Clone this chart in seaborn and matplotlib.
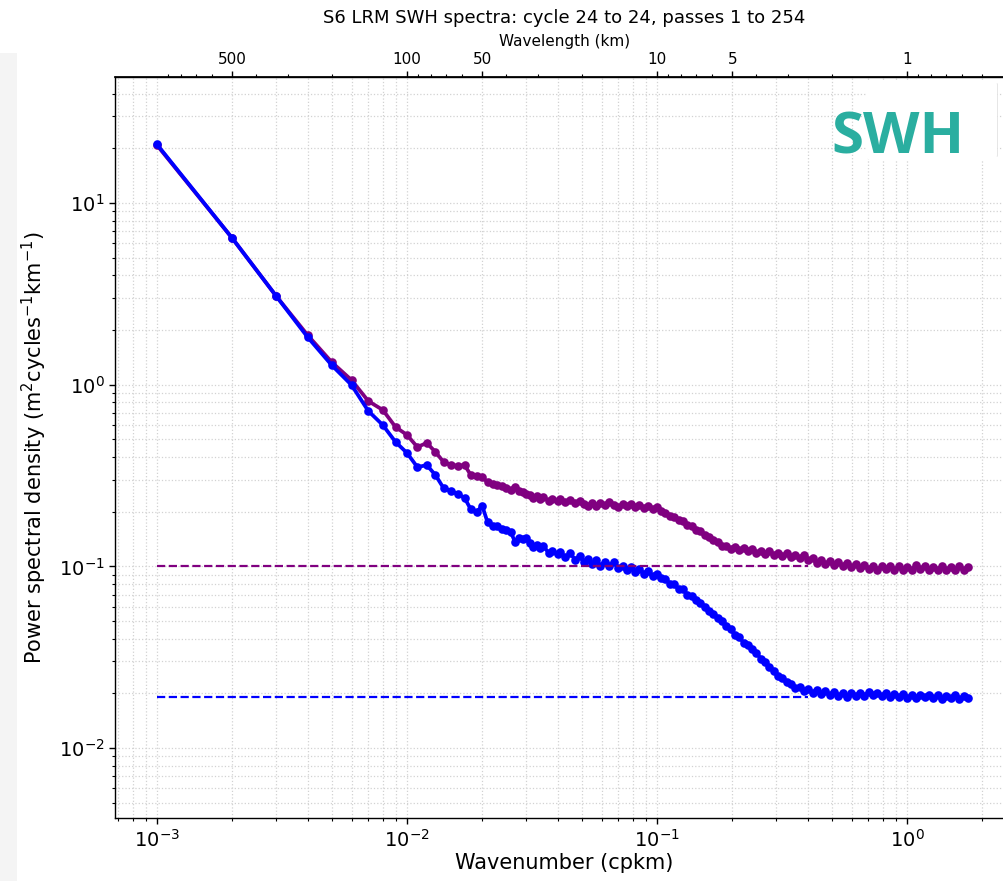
import numpy as np
import pandas as pd
import matplotlib
matplotlib.use("Agg")
import matplotlib.pyplot as plt
from matplotlib.patches import Rectangle, FancyBboxPatch
from matplotlib.lines import Line2D
import seaborn as sns

# ---------------- data ----------------
wavenumber = [
    0.001, 0.002, 0.003, 0.004, 0.005, 0.006, 0.007, 0.008, 0.009, 0.010,
    0.011, 0.012, 0.013, 0.014, 0.015, 0.016, 0.017, 0.018, 0.019, 0.020,
    0.021, 0.022, 0.023, 0.024, 0.025, 0.026, 0.027, 0.028, 0.029, 0.030,
    0.031, 0.032, 0.033, 0.034, 0.035, 0.037, 0.038, 0.040, 0.041, 0.043,
    0.045, 0.047, 0.049, 0.051, 0.053, 0.055, 0.057, 0.059, 0.062, 0.064,
    0.067, 0.070, 0.073, 0.076, 0.079, 0.082, 0.085, 0.089, 0.092, 0.096,
    0.100, 0.104, 0.108, 0.113, 0.117, 0.122, 0.127, 0.132, 0.138, 0.143,
    0.149, 0.155, 0.161, 0.168, 0.175, 0.182, 0.189, 0.197, 0.205, 0.213,
    0.222, 0.231, 0.240, 0.250, 0.260, 0.270, 0.281, 0.293, 0.305, 0.317,
    0.330, 0.343, 0.357, 0.372, 0.387, 0.402, 0.419, 0.436, 0.453, 0.472,
    0.491, 0.510, 0.531, 0.553, 0.575, 0.598, 0.623, 0.648, 0.674, 0.702,
    0.730, 0.760, 0.791, 0.823, 0.856, 0.891, 0.927, 0.965, 1.004, 1.045,
    1.087, 1.131, 1.177, 1.225, 1.275, 1.327, 1.381, 1.437, 1.495, 1.556,
    1.619, 1.685, 1.750,
]

psd_purple = [
    20.8, 6.40, 3.07, 1.877, 1.33, 1.06, 0.813, 0.726, 0.585, 0.529,
    0.454, 0.478, 0.426, 0.376, 0.361, 0.358, 0.361, 0.318, 0.314, 0.310,
    0.291, 0.285, 0.281, 0.276, 0.270, 0.263, 0.272, 0.260, 0.257, 0.250,
    0.246, 0.238, 0.243, 0.236, 0.240, 0.230, 0.236, 0.229, 0.234, 0.226,
    0.231, 0.224, 0.229, 0.220, 0.214, 0.222, 0.216, 0.224, 0.217, 0.225,
    0.218, 0.212, 0.221, 0.214, 0.220, 0.211, 0.218, 0.210, 0.216, 0.207,
    0.212, 0.202, 0.197, 0.190, 0.186, 0.181, 0.177, 0.170, 0.166, 0.159,
    0.156, 0.148, 0.145, 0.139, 0.136, 0.130, 0.129, 0.125, 0.128, 0.123,
    0.126, 0.121, 0.124, 0.119, 0.122, 0.117, 0.121, 0.116, 0.119, 0.114,
    0.118, 0.113, 0.116, 0.111, 0.115, 0.108, 0.111, 0.105, 0.109, 0.103,
    0.107, 0.102, 0.106, 0.100, 0.104, 0.099, 0.103, 0.098, 0.102, 0.097,
    0.101, 0.096, 0.100, 0.097, 0.101, 0.096, 0.100, 0.095, 0.099, 0.096,
    0.102, 0.097, 0.100, 0.095, 0.099, 0.096, 0.101, 0.095, 0.099, 0.096,
    0.100, 0.095, 0.099,
]

psd_blue = [
    21.0, 6.40, 3.07, 1.83, 1.28, 0.996, 0.717, 0.600, 0.484, 0.421,
    0.352, 0.361, 0.318, 0.270, 0.260, 0.250, 0.238, 0.206, 0.200, 0.215,
    0.175, 0.167, 0.166, 0.161, 0.158, 0.155, 0.137, 0.144, 0.141, 0.144,
    0.135, 0.128, 0.131, 0.126, 0.130, 0.118, 0.122, 0.117, 0.120, 0.112,
    0.118, 0.109, 0.114, 0.106, 0.110, 0.103, 0.108, 0.101, 0.106, 0.100,
    0.106, 0.098, 0.101, 0.095, 0.099, 0.093, 0.097, 0.091, 0.094, 0.088,
    0.091, 0.086, 0.085, 0.080, 0.080, 0.075, 0.075, 0.070, 0.069, 0.065,
    0.063, 0.060, 0.057, 0.055, 0.052, 0.050, 0.047, 0.045, 0.042, 0.041,
    0.038, 0.037, 0.035, 0.0335, 0.031, 0.0298, 0.0278, 0.0267, 0.0250, 0.0242,
    0.0230, 0.0226, 0.0215, 0.0218, 0.0207, 0.0212, 0.0202, 0.0208, 0.0198, 0.0205,
    0.0196, 0.0203, 0.0194, 0.0201, 0.0192, 0.0200, 0.0193, 0.0201, 0.0194, 0.0203,
    0.0195, 0.0202, 0.0193, 0.0200, 0.0192, 0.0199, 0.0190, 0.0198, 0.0189, 0.0197,
    0.0188, 0.0196, 0.0190, 0.0197, 0.0188, 0.0195, 0.0187, 0.0194, 0.0188, 0.0195,
    0.0186, 0.0193, 0.0189,
]

noise_range = [0.001, 0.4]
noise_purple = 0.1
noise_blue = 0.019

series_names = ["purple", "blue"]
series_colors = {"purple": "#800080", "blue": "#0000ff"}

top_ticks = [500, 100, 50, 10, 5, 1]
top_ticklabels = ["500", "100", "50", "10", "5", "1"]

title = "S6 LRM SWH spectra: cycle 24 to 24, passes 1 to 254"
xlabel = "Wavenumber (cpkm)"
ylabel = r"Power spectral density (m$^2$cycles$^{-1}$km$^{-1}$)"
toplabel = "Wavelength (km)"
badge = "SWH"

# ---------------- build long table ----------------
df = pd.concat([
    pd.DataFrame({"k": wavenumber, "psd": psd_purple, "series": "purple"}),
    pd.DataFrame({"k": wavenumber, "psd": psd_blue, "series": "blue"}),
], ignore_index=True)

# ---------------- style ----------------
sns.set_theme(style="ticks")
plt.rcParams["font.family"] = ["DejaVu Sans"]
plt.rcParams["mathtext.fontset"] = "dejavusans"
for key in ["text.color", "axes.labelcolor", "xtick.color", "ytick.color",
            "axes.edgecolor"]:
    plt.rcParams[key] = "black"

fig = plt.figure(figsize=(10.04, 8.81), dpi=100)
ax = fig.add_axes([115 / 1004, 1 - 818 / 881, (1014 - 115) / 1004, (818 - 77) / 881])
ax.set_xscale("log")
ax.set_yscale("log")

ax.grid(True, which="both", linestyle=":", color="#d2d2d2", linewidth=0.9)
ax.set_axisbelow(True)

sns.lineplot(data=df, x="k", y="psd", hue="series", hue_order=series_names,
             palette=series_colors, estimator=None, sort=True,
             marker="o", markersize=6.2, markeredgewidth=0,
             linewidth=2.7, legend=False, ax=ax)

ax.plot(noise_range, [noise_purple, noise_purple], linestyle="--",
        color=series_colors["purple"], linewidth=1.6)
ax.plot(noise_range, [noise_blue, noise_blue], linestyle="--",
        color=series_colors["blue"], linewidth=1.6)

# x: 1e-3 at 157 px, 250 px per decade; y: 10 at 203 px, 181.7 px per decade
ax.set_xlim(10 ** (-3 + (115 - 157) / 250), 10 ** (-3 + (1014 - 157) / 250))
ax.set_ylim(10 ** (1 - (818 - 203) / 181.7), 10 ** (1 + (203 - 77) / 181.7))

for s in ax.spines.values():
    s.set_color("black")
    s.set_linewidth(1.0)

ax.tick_params(axis="both", which="major", labelsize=14, length=4, width=1, color="black")
ax.tick_params(axis="both", which="minor", length=2.5, width=0.8, color="black")
ax.set_xlabel(xlabel, fontsize=15, labelpad=2)
ax.set_ylabel(ylabel, fontsize=15, labelpad=7)


def inv(x):
    x = np.array(x, dtype=float)
    near_zero = np.isclose(x, 0)
    out = np.empty_like(x)
    out[near_zero] = np.inf
    out[~near_zero] = 1.0 / x[~near_zero]
    return out


secax = ax.secondary_xaxis("top", functions=(inv, inv))
secax.set_xticks(top_ticks)
secax.set_xticklabels(top_ticklabels)
secax.tick_params(axis="x", which="major", labelsize=11, length=4, width=1)
secax.tick_params(axis="x", which="minor", length=2.5, width=0.8)
secax.set_xlabel(toplabel, fontsize=11, labelpad=4)
ax.set_title(title, fontsize=13, pad=8)

# screenshot strip at the left edge
fig.patches.append(Rectangle((0, 0), 17 / 1004, 1 - 53 / 881,
                             transform=fig.transFigure, facecolor="#f4f4f4",
                             edgecolor="none", zorder=-5))

# badge box with the "SWH" label
fig.patches.append(FancyBboxPatch((866 / 1004, 1 - 160 / 881), 131 / 1004, 80 / 881,
                                  boxstyle="round,pad=0,rounding_size=0.006",
                                  transform=fig.transFigure, facecolor="white",
                                  edgecolor="none", zorder=5))
fig.lines.append(Line2D([997 / 1004, 997 / 1004], [1 - 156 / 881, 1 - 84 / 881],
                        transform=fig.transFigure, color="#e2e2e2",
                        linewidth=1.2, zorder=5))
fig.text(898 / 1004, 1 - 139 / 881, badge, color="#2aaea0", fontsize=42,
         fontweight="bold", family=["Open Sans", "DejaVu Sans"],
         ha="center", va="center", zorder=6)

fig.savefig("out.png", dpi=100)
